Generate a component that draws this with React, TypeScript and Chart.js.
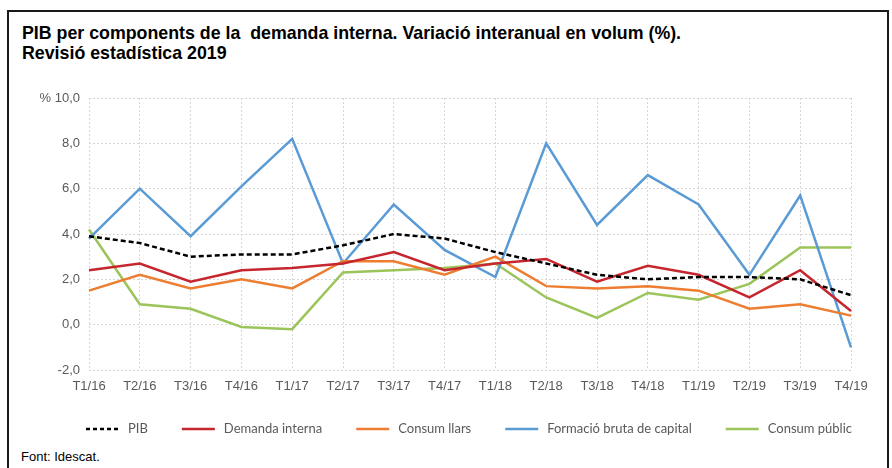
import React, { useEffect, useRef } from "react";
import { Chart, registerables } from "chart.js";

Chart.register(...registerables);

const categories = ["T1/16", "T2/16", "T3/16", "T4/16", "T1/17", "T2/17", "T3/17", "T4/17", "T1/18", "T2/18", "T3/18", "T4/18", "T1/19", "T2/19", "T3/19", "T4/19"];
const pib = [3.9, 3.6, 3.0, 3.1, 3.1, 3.5, 4.0, 3.8, 3.2, 2.7, 2.2, 2.0, 2.1, 2.1, 2.0, 1.3];
const demandaInterna = [2.4, 2.7, 1.9, 2.4, 2.5, 2.7, 3.2, 2.4, 2.7, 2.9, 1.9, 2.6, 2.2, 1.2, 2.4, 0.6];
const consumLlars = [1.5, 2.2, 1.6, 2.0, 1.6, 2.8, 2.8, 2.2, 3.0, 1.7, 1.6, 1.7, 1.5, 0.7, 0.9, 0.4];
const formacioBruta = [3.8, 6.0, 3.9, 6.1, 8.2, 2.7, 5.3, 3.3, 2.1, 8.0, 4.4, 6.6, 5.3, 2.2, 5.7, -1.0];
const consumPublic = [4.2, 0.9, 0.7, -0.1, -0.2, 2.3, 2.4, 2.5, 2.7, 1.2, 0.3, 1.4, 1.1, 1.8, 3.4, 3.4];
const yTicks = [-2, 0, 2, 4, 6, 8, 10];

const title1 = "PIB per components de la\u00a0 demanda interna. Variació interanual en volum (%).";
const title2 = "Revisió estadística 2019";
const source = "Font: Idescat.";

const legendPlugin = {
  id: "customLegend",
  afterDraw(chart: any) {
    const ctx = chart.ctx as CanvasRenderingContext2D;
    const area = chart.chartArea;
    const lineW = 33;
    const textGap = 9;
    const itemGap = 34;
    const font = "13px Lato, 'Open Sans', sans-serif";
    ctx.save();
    ctx.font = font;
    const items = chart.data.datasets.map((ds: any) => ({
      label: ds.label as string,
      color: ds.borderColor as string,
      dash: (ds.borderDash || []) as number[],
      width: ds.borderWidth as number,
      textW: ctx.measureText(ds.label).width,
    }));
    const total = items.reduce((s: number, it: any) => s + lineW + textGap + it.textW, 0) + itemGap * (items.length - 1);
    let x = (area.left + area.right) / 2 - 1 - total / 2;
    const y = area.bottom + 59;
    ctx.textBaseline = "middle";
    ctx.textAlign = "left";
    for (const it of items) {
      ctx.beginPath();
      ctx.strokeStyle = it.color;
      ctx.lineWidth = it.width;
      ctx.setLineDash(it.dash.length ? [4, 3] : []);
      ctx.moveTo(x, y);
      ctx.lineTo(x + lineW, y);
      ctx.stroke();
      ctx.setLineDash([]);
      ctx.fillStyle = "#595959";
      ctx.fillText(it.label, x + lineW + textGap, y);
      x += lineW + textGap + it.textW + itemGap;
    }
    ctx.restore();
  },
};

export default function App() {
  const ref = useRef<HTMLCanvasElement | null>(null);

  useEffect(() => {
    if (!ref.current) return;
    const tickFont = { family: "'Liberation Sans', Arial, sans-serif", size: 13 };
    const chart = new Chart(ref.current, {
      type: "line",
      data: {
        labels: categories,
        datasets: [
          { label: "PIB", data: pib, borderColor: "#000000", backgroundColor: "#000000", borderDash: [5, 3], borderWidth: 2.5 },
          { label: "Demanda interna", data: demandaInterna, borderColor: "#C6262E", backgroundColor: "#C6262E", borderWidth: 2.5 },
          { label: "Consum llars", data: consumLlars, borderColor: "#ED7D31", backgroundColor: "#ED7D31", borderWidth: 2.5 },
          { label: "Formació bruta de capital", data: formacioBruta, borderColor: "#5B9BD5", backgroundColor: "#5B9BD5", borderWidth: 2.5 },
          { label: "Consum públic", data: consumPublic, borderColor: "#9BC45A", backgroundColor: "#9BC45A", borderWidth: 2.5 },
        ],
      },
      options: {
        animation: false,
        responsive: false,
        maintainAspectRatio: false,
        layout: { padding: { left: 0, right: 41, top: 18, bottom: 50 } },
        elements: { point: { radius: 0, hoverRadius: 0 }, line: { tension: 0 } },
        scales: {
          x: {
            type: "category",
            offset: false,
            grid: { color: "#d6d6d6", lineWidth: 1, drawTicks: false, offset: false },
            border: { display: false, dash: [2, 2] },
            ticks: { color: "#595959", font: tickFont, padding: 9, autoSkip: false, maxRotation: 0 },
            afterFit: (s: any) => { s.height = 26; },
          },
          y: {
            min: -2,
            max: 10,
            afterBuildTicks: (s: any) => { s.ticks = yTicks.map((v) => ({ value: v })); },
            grid: { color: "#d6d6d6", lineWidth: 1, drawTicks: false },
            border: { display: false, dash: [2, 2] },
            ticks: {
              color: "#595959",
              font: tickFont,
              padding: 9,
              callback: (v: any) => {
                const s = Number(v).toFixed(1).replace(".", ",");
                return Number(v) === 10 ? "% " + s : s;
              },
            },
            afterFit: (s: any) => { s.width = 89; },
          },
        },
        plugins: {
          title: { display: false },
          tooltip: { enabled: false },
          legend: { display: false },
        },
      },
      plugins: [legendPlugin],
    } as any);
    return () => chart.destroy();
  }, []);

  return (
    <div style={{ position: "absolute", left: 0, top: 0, width: 892, height: 468, overflow: "hidden", background: "#fff", fontFamily: "'Liberation Sans', Arial, sans-serif" }}>
      <div style={{ position: "absolute", left: 7, top: 10, width: 878, height: 480, border: "2px solid #1a1a1a", boxSizing: "content-box" }} />
      <div style={{ position: "absolute", left: 22, top: 23, fontWeight: "bold", fontSize: 17.8, lineHeight: "20px", color: "#000", whiteSpace: "nowrap" }}>
        <div>{title1}</div>
        <div>{title2}</div>
      </div>
      <div style={{ position: "absolute", left: 0, top: 80, width: 892, height: 366 }}>
        <canvas ref={ref} width={892} height={366} style={{ display: "block", width: 892, height: 366 }} />
      </div>
      <div style={{ position: "absolute", left: 21, top: 449, fontSize: 13, lineHeight: "16px", color: "#000", whiteSpace: "nowrap" }}>{source}</div>
    </div>
  );
}
